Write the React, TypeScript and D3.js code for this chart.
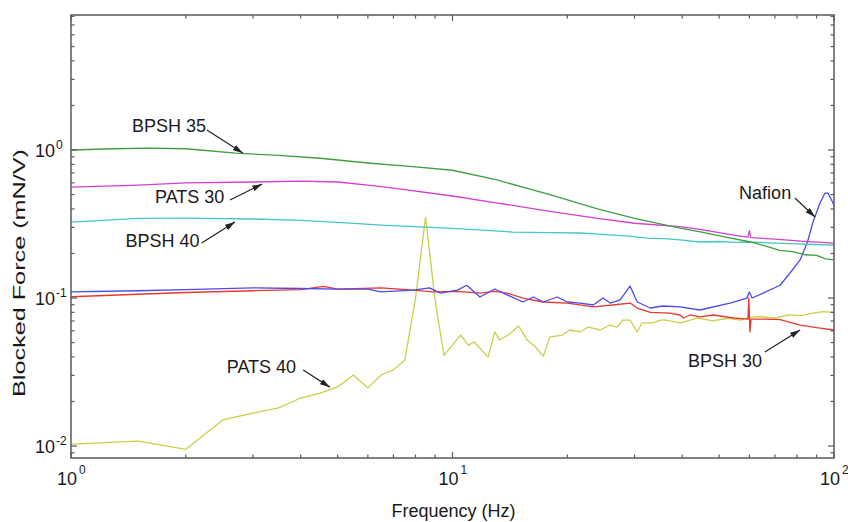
import React from "react";
import * as d3 from "d3";

// chart values (frequency in Hz, blocked force in mN/V)
const bpsh35Freq = [1, 1.3, 1.6, 2, 2.7, 3.5, 4.5, 6, 8, 10, 13, 18, 24, 30, 39.5, 45, 52, 60, 66, 72, 78, 84, 90, 95, 100];
const bpsh35 = [1.0, 1.02, 1.03, 1.02, 0.954, 0.92, 0.88, 0.817, 0.77, 0.73, 0.63, 0.5, 0.4, 0.345, 0.297, 0.279, 0.258, 0.24, 0.225, 0.21, 0.206, 0.196, 0.194, 0.184, 0.181];

const pats30Freq = [1, 1.5, 2, 3, 4, 5, 6, 7, 10, 13, 18, 24, 30, 39.5, 45, 55, 59.5, 60, 60.5, 70, 82, 100];
const pats30 = [0.562, 0.58, 0.599, 0.608, 0.617, 0.608, 0.58, 0.553, 0.489, 0.44, 0.385, 0.345, 0.32, 0.304, 0.29, 0.265, 0.258, 0.285, 0.256, 0.25, 0.242, 0.235];

const bpsh40Freq = [1, 1.5, 2, 3, 4, 5.4, 6.5, 9.7, 12, 14.4, 18, 21.6, 24, 26.3, 29, 32.3, 36, 39.5, 44.5, 50, 55, 60, 70, 80, 90, 100];
const bpsh40 = [0.326, 0.345, 0.347, 0.342, 0.335, 0.321, 0.311, 0.297, 0.288, 0.279, 0.277, 0.275, 0.27, 0.266, 0.262, 0.254, 0.252, 0.247, 0.239, 0.241, 0.238, 0.239, 0.235, 0.232, 0.23, 0.228];

const nafionFreq = [1, 1.5, 2, 3, 4, 5, 6, 6.5, 7.9, 8.7, 9.3, 10.3, 10.9, 11.8, 12.9, 13.9, 15.3, 16.3, 17.3, 18.8, 20, 21.6, 23.4, 24.8, 25.9, 27.5, 29.2, 30.5, 33, 35.6, 39.5, 44.5, 53.4, 59.1, 60, 61, 65.2, 72.2, 76.7, 81.5, 85, 88.1, 91.9, 94.7, 96.4, 99.4, 100];
const nafion = [0.11, 0.112, 0.114, 0.117, 0.116, 0.115, 0.115, 0.11, 0.113, 0.117, 0.108, 0.113, 0.122, 0.1016, 0.115, 0.105, 0.094, 0.1016, 0.094, 0.1016, 0.094, 0.0925, 0.0897, 0.1, 0.0925, 0.097, 0.1205, 0.094, 0.0856, 0.0883, 0.087, 0.083, 0.0925, 0.1, 0.11, 0.1, 0.108, 0.122, 0.1476, 0.181, 0.235, 0.3265, 0.438, 0.512, 0.512, 0.438, 0.42];

const bpsh30Freq = [1, 1.5, 2, 3, 4, 4.6, 5, 6.5, 7.9, 8.9, 10.3, 11.8, 12.9, 13.9, 15.3, 17.3, 20, 23.4, 26.3, 29.2, 30.5, 33, 37.1, 39.5, 40.3, 41.9, 44.5, 48.3, 54.5, 59.5, 59.8, 60.2, 60.6, 66, 72.2, 81.5, 90, 100];
const bpsh30 = [0.102, 0.106, 0.109, 0.112, 0.114, 0.12, 0.115, 0.117, 0.113, 0.11, 0.111, 0.108, 0.111, 0.108, 0.1, 0.094, 0.0925, 0.087, 0.0897, 0.0925, 0.0856, 0.08, 0.079, 0.0768, 0.0733, 0.0768, 0.0745, 0.0768, 0.0733, 0.072, 0.1, 0.059, 0.072, 0.072, 0.0715, 0.0657, 0.063, 0.0608];

const pats40Freq = [1, 1.5, 2, 2.5, 3, 3.5, 4, 4.5, 5, 5.5, 6, 6.5, 7, 7.5, 8, 8.5, 9, 9.5, 10.5, 11, 11.4, 12.4, 12.9, 13.3, 14, 14.9, 15.7, 16.5, 17.3, 18, 19.4, 20.3, 21.6, 22.7, 24.4, 25.9, 27, 28, 29.2, 30.5, 31.4, 33.6, 35, 36.3, 39.5, 41.9, 43.9, 48, 53, 57, 60, 64, 70, 76, 82, 88, 94, 100];
const pats40 = [0.0103, 0.0108, 0.0095, 0.015, 0.0167, 0.0181, 0.0211, 0.0228, 0.0251, 0.0302, 0.0247, 0.0302, 0.0327, 0.0381, 0.1, 0.352, 0.097, 0.041, 0.0562, 0.0481, 0.0504, 0.0399, 0.059, 0.052, 0.0562, 0.0647, 0.052, 0.0467, 0.0405, 0.0545, 0.0562, 0.0608, 0.059, 0.0637, 0.0608, 0.0657, 0.0637, 0.071, 0.071, 0.059, 0.068, 0.068, 0.071, 0.071, 0.068, 0.071, 0.0733, 0.07, 0.073, 0.071, 0.074, 0.075, 0.073, 0.077, 0.076, 0.079, 0.081, 0.08];

// label text at (tf, tv), arrow from (ff, fv) to (af, av), all in data units
const annotations = [
  { label: "BPSH 35", tf: 1.445, tv: 1.323, ff: 2.27, fv: 1.365, af: 2.82, av: 0.954 },
  { label: "PATS 30", tf: 1.66, tv: 0.438, ff: 2.61, fv: 0.459, af: 3.17, av: 0.589 },
  { label: "BPSH 40", tf: 1.39, tv: 0.221, ff: 2.2, fv: 0.235, af: 2.69, av: 0.326 },
  { label: "Nafion", tf: 56.4, tv: 0.467, ff: 79, fv: 0.474, af: 89.2, av: 0.353 },
  { label: "PATS 40", tf: 2.56, tv: 0.0311, ff: 4.06, fv: 0.0326, af: 4.77, av: 0.025 },
  { label: "BPSH 30", tf: 41.4, tv: 0.0342, ff: 65.9, fv: 0.0432, af: 81.5, av: 0.0608 },
];

const W = 848;
const H = 522;
const plot = { left: 71, right: 834, top: 15, bottom: 458 };
const font = "'Liberation Sans', Arial, sans-serif";

const App = () => {
  const x = d3.scaleLog().domain([1, 100]).range([plot.left, plot.right]);
  const y = d3.scaleLog().domain([0.0083, 8.17]).range([plot.bottom, plot.top]);

  const series = [
    { name: "PATS 40", f: pats40Freq, v: pats40, color: "#cdcd48" },
    { name: "BPSH 30", f: bpsh30Freq, v: bpsh30, color: "#e8382f" },
    { name: "Nafion", f: nafionFreq, v: nafion, color: "#4b4bea" },
    { name: "BPSH 40", f: bpsh40Freq, v: bpsh40, color: "#45c6c6" },
    { name: "PATS 30", f: pats30Freq, v: pats30, color: "#d23fd2" },
    { name: "BPSH 35", f: bpsh35Freq, v: bpsh35, color: "#3f9f3f" },
  ];

  const line = d3
    .line<[number, number]>()
    .x((d) => x(d[0]))
    .y((d) => y(d[1]));

  const isMajor = (t: number) =>
    Math.abs(Math.log10(t) - Math.round(Math.log10(t))) < 1e-9;

  const xTicks = x.ticks();
  const yTicks = y.ticks();
  const axisColor = "#5a5a5a";

  return (
    <svg
      width={W}
      height={H}
      style={{ position: "absolute", left: 0, top: 0, background: "#fff" }}
      fontFamily={font}
    >
      <defs>
        <clipPath id="plot-clip">
          <rect
            x={plot.left}
            y={plot.top}
            width={plot.right - plot.left}
            height={plot.bottom - plot.top}
          />
        </clipPath>
        <marker
          id="arrow"
          viewBox="0 0 10 6"
          refX={10}
          refY={3}
          markerWidth={10}
          markerHeight={6}
          markerUnits="userSpaceOnUse"
          orient="auto"
        >
          <path d="M0,0 L10,3 L0,6 Z" fill="#222" />
        </marker>
      </defs>

      {/* data lines */}
      <g clipPath="url(#plot-clip)">
        {series.map((s) => (
          <path
            key={s.name}
            d={line(s.f.map((f, i) => [f, s.v[i]] as [number, number])) || ""}
            fill="none"
            stroke={s.color}
            strokeWidth={1.3}
            strokeLinejoin="round"
          />
        ))}
      </g>

      {/* frame */}
      <rect
        x={plot.left}
        y={plot.top}
        width={plot.right - plot.left}
        height={plot.bottom - plot.top}
        fill="none"
        stroke={axisColor}
        strokeWidth={1.5}
      />

      {/* x ticks, bottom and top, pointing in */}
      {xTicks.map((t, i) => {
        const len = isMajor(t) ? 6 : 3.5;
        return (
          <g key={"xt" + i} stroke={axisColor} strokeWidth={1.2}>
            <line x1={x(t)} x2={x(t)} y1={plot.bottom} y2={plot.bottom - len} />
            <line x1={x(t)} x2={x(t)} y1={plot.top} y2={plot.top + len} />
          </g>
        );
      })}
      {/* y ticks, left and right */}
      {yTicks.map((t, i) => {
        const len = isMajor(t) ? 6 : 3.5;
        return (
          <g key={"yt" + i} stroke={axisColor} strokeWidth={1.2}>
            <line x1={plot.left} x2={plot.left + len} y1={y(t)} y2={y(t)} />
            <line x1={plot.right} x2={plot.right - len} y1={y(t)} y2={y(t)} />
          </g>
        );
      })}

      {/* x tick labels */}
      {xTicks.filter(isMajor).map((t) => (
        <g key={"xl" + t} fill="#1a1a1a">
          <text x={x(t) + 6} y={485} fontSize={18} textAnchor="end">
            10
          </text>
          <text x={x(t) + 8} y={474} fontSize={12}>
            {Math.round(Math.log10(t))}
          </text>
        </g>
      ))}
      {/* y tick labels */}
      {yTicks.filter(isMajor).map((t) => (
        <g key={"yl" + t} fill="#1a1a1a">
          <text x={55} y={y(t) + 7} fontSize={18} textAnchor="end">
            10
          </text>
          <text x={56} y={y(t) - 1} fontSize={12}>
            {Math.round(Math.log10(t))}
          </text>
        </g>
      ))}

      {/* axis titles */}
      <text x={(plot.left + plot.right) / 2 + 1} y={517} fontSize={18} textAnchor="middle" fill="#1a1a1a">
        Frequency (Hz)
      </text>
      <text
        transform={`translate(25, 273) rotate(-90)`}
        fontSize={17}
        textAnchor="middle"
        fill="#1a1a1a"
        textLength={248}
        lengthAdjust="spacingAndGlyphs"
      >
        Blocked Force (mN/V)
      </text>

      {/* annotations */}
      {annotations.map((a) => (
        <g key={a.label}>
          <text x={x(a.tf)} y={y(a.tv)} fontSize={18} fill="#1a1a1a">
            {a.label}
          </text>
          <line
            x1={x(a.ff)}
            y1={y(a.fv)}
            x2={x(a.af)}
            y2={y(a.av)}
            stroke="#222"
            strokeWidth={1.2}
            markerEnd="url(#arrow)"
          />
        </g>
      ))}
    </svg>
  );
};

export default App;
